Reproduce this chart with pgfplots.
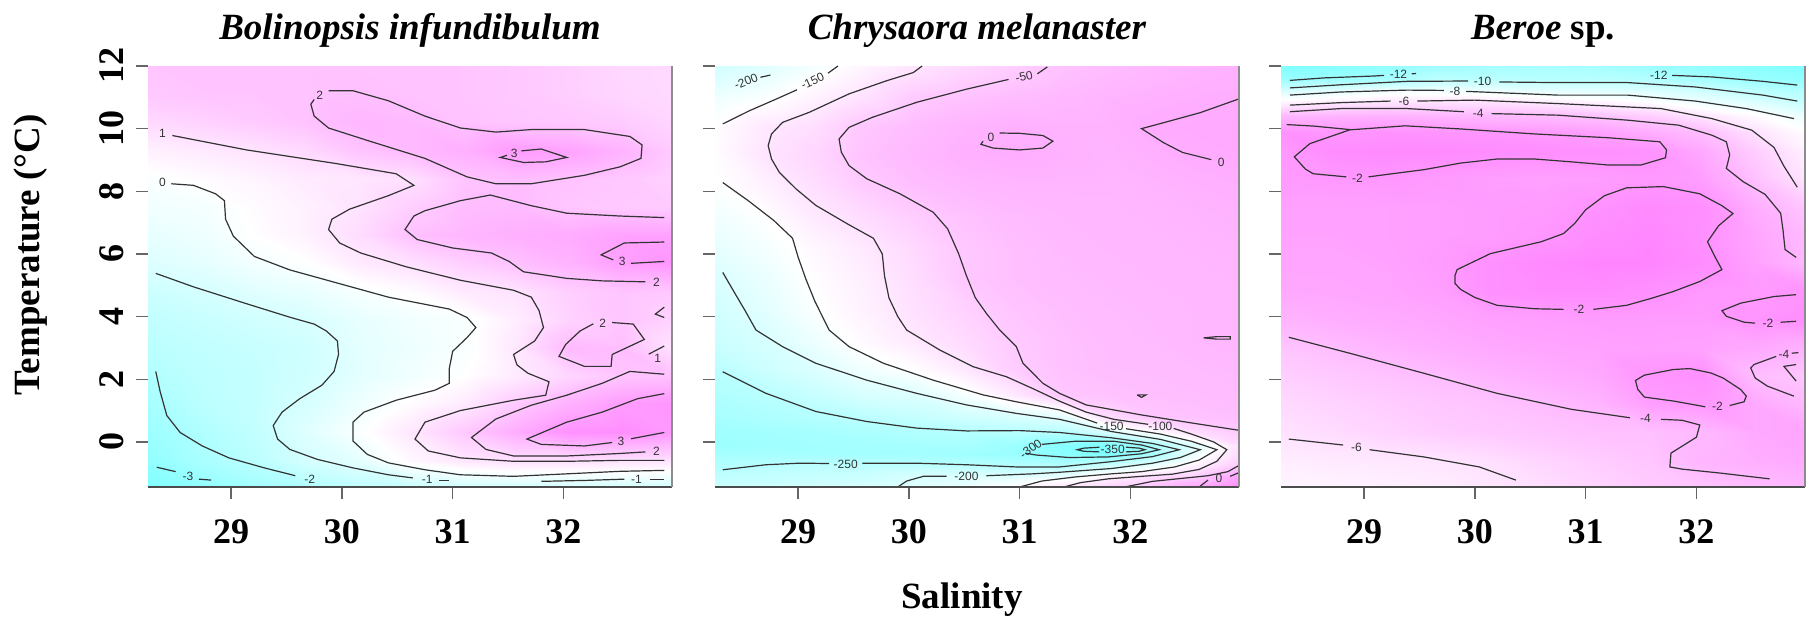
\documentclass[border=0pt]{standalone}
\usepackage{fontspec}
\setmainfont{Liberation Serif}
\newfontfamily\lblfont{Liberation Sans}
\usepackage{pgfplots}
\pgfplotsset{compat=1.18}

\pgfplotsset{
  colormap={cmcol}{rgb255(0cm)=(128,255,255) rgb255(1cm)=(255,255,255) rgb255(2cm)=(255,128,255)},
  % same palette, with the white point placed lower for the jellyfish panel
  colormap={cmcolb}{rgb255(0cm)=(128,255,255) rgb255(18cm)=(255,255,255) rgb255(41cm)=(255,128,255)},
  panel/.style={
    scale only axis, width=262pt, height=210.5pt,
    xmin=28.25, xmax=32.98, ymin=-1.44, ymax=12,
    xtick={29,30,31,32}, ytick={0,2,4,6,8,10,12},
    axis line style={draw=none},
    tick align=outside,
    major tick length=6pt,
    tick style={black!60, line width=0.7pt},
    xtick pos=left, ytick pos=left,
    /pgf/number format/assume math mode=true,
    ticklabel style={font=\fontsize{18}{20}\selectfont\bfseries, inner sep=0pt},
    xticklabel style={anchor=north, yshift=-10pt},
    colormap name=cmcol,
    clip mode=individual,
    title style={font=\fontsize{18.5}{21}\selectfont\bfseries, at={(axis description cs:0.5,1.055)}, anchor=center},
  },
  field/.style={surf, shader=interp, point meta=explicit},
  cl/.style={black!80, line width=0.6pt, mark=none},
}
\tikzset{clbl/.style={font=\lblfont\fontsize{6}{7}\selectfont, text=black!80, inner sep=0pt}}

\begin{document}
\begin{tikzpicture}
\path[use as bounding box] (0,0) rectangle (907.5pt,312pt);

% ---------------- Bolinopsis infundibulum ----------------
\begin{axis}[panel, at={(74pt,68.5pt)}, anchor=south west,
  title={\textit{Bolinopsis infundibulum}},
  point meta min=-3.5, point meta max=3.9,
  ylabel={Temperature (°C)},
  ylabel style={font=\fontsize{18.5}{21}\selectfont\bfseries, at={(axis description cs:-0.2233,0.551)}, anchor=center},
  yticklabel style={rotate=90, anchor=south, yshift=6pt},
]
\addplot[field, mesh/cols=11] coordinates {
(28.25,-1.5)[-3.5] (28.725,-1.5)[-3.0] (29.2,-1.5)[-2.5] (29.675,-1.5)[-2.1] (30.15,-1.5)[-1.7] (30.625,-1.5)[-1.5] (31.1,-1.5)[-1.3] (31.575,-1.5)[-1.2] (32.05,-1.5)[-1.2] (32.525,-1.5)[-1.2] (33.0,-1.5)[-1.2]
(28.25,-0.6)[-3.0] (28.725,-0.6)[-2.3] (29.2,-0.6)[-1.8] (29.675,-0.6)[-1.05] (30.15,-0.6)[-0.6] (30.625,-0.6)[0.4] (31.1,-0.6)[0.9] (31.575,-0.6)[1.1] (32.05,-0.6)[1.1] (32.525,-0.6)[1.0] (33.0,-0.6)[1.0]
(28.25,0.3)[-2.7] (28.725,0.3)[-2.1] (29.2,0.3)[-1.6] (29.675,0.3)[-0.7] (30.15,0.3)[0.05] (30.625,0.3)[0.9] (31.1,0.3)[1.8] (31.575,0.3)[2.6] (32.05,0.3)[3.4] (32.525,0.3)[3.5] (33.0,0.3)[3.2]
(28.25,1.2)[-2.4] (28.725,1.2)[-1.8] (29.2,1.2)[-1.5] (29.675,1.2)[-1.0] (30.15,1.2)[-0.3] (30.625,1.2)[0.3] (31.1,1.2)[0.8] (31.575,1.2)[1.75] (32.05,1.2)[2.5] (32.525,1.2)[3.1] (33.0,1.2)[3.3]
(28.25,2.1)[-2.1] (28.725,2.1)[-1.7] (29.2,2.1)[-1.5] (29.675,2.1)[-1.15] (30.15,2.1)[-0.6] (30.625,2.1)[-0.2] (31.1,2.1)[0.2] (31.575,2.1)[0.8] (32.05,2.1)[1.4] (32.525,2.1)[1.9] (33.0,2.1)[2.0]
(28.25,3.0)[-1.8] (28.725,3.0)[-1.6] (29.2,3.0)[-1.4] (29.675,3.0)[-1.2] (30.15,3.0)[-0.6] (30.625,3.0)[-0.3] (31.1,3.0)[0.0] (31.575,3.0)[0.9] (32.05,3.0)[2.2] (32.525,3.0)[2.1] (33.0,3.0)[1.0]
(28.25,3.9)[-1.6] (28.725,3.9)[-1.4] (29.2,3.9)[-1.15] (29.675,3.9)[-0.95] (30.15,3.9)[-0.5] (30.625,3.9)[-0.2] (31.1,3.9)[0.0] (31.575,3.9)[0.7] (32.05,3.9)[1.5] (32.525,3.9)[1.9] (33.0,3.9)[1.5]
(28.25,4.8)[-1.3] (28.725,4.8)[-1.05] (29.2,4.8)[-0.7] (29.675,4.8)[-0.45] (30.15,4.8)[-0.05] (30.625,4.8)[0.3] (31.1,4.8)[0.8] (31.575,4.8)[1.0] (32.05,4.8)[1.6] (32.525,4.8)[1.9] (33.0,4.8)[1.8]
(28.25,5.7)[-0.8] (28.725,5.7)[-0.55] (29.2,5.7)[-0.15] (29.675,5.7)[0.15] (30.15,5.7)[0.8] (30.625,5.7)[1.1] (31.1,5.7)[1.6] (31.575,5.7)[2.0] (32.05,5.7)[2.4] (32.525,5.7)[3.0] (33.0,5.7)[3.3]
(28.25,6.6)[-0.5] (28.725,6.6)[-0.3] (29.2,6.6)[0.2] (29.675,6.6)[0.6] (30.15,6.6)[1.2] (30.625,6.6)[2.0] (31.1,6.6)[2.3] (31.575,6.6)[2.5] (32.05,6.6)[2.6] (32.525,6.6)[2.9] (33.0,6.6)[2.9]
(28.25,7.5)[-0.2] (28.725,7.5)[-0.1] (29.2,7.5)[0.3] (29.675,7.5)[0.6] (30.15,7.5)[1.0] (30.625,7.5)[1.6] (31.1,7.5)[2.1] (31.575,7.5)[2.2] (32.05,7.5)[1.85] (32.525,7.5)[1.75] (33.0,7.5)[1.7]
(28.25,8.4)[0.05] (28.725,8.4)[0.3] (29.2,8.4)[0.5] (29.675,8.4)[0.8] (30.15,8.4)[0.9] (30.625,8.4)[1.1] (31.1,8.4)[1.9] (31.575,8.4)[2.1] (32.05,8.4)[1.95] (32.525,8.4)[1.8] (33.0,8.4)[1.5]
(28.25,9.3)[0.6] (28.725,9.3)[0.8] (29.2,9.3)[1.0] (29.675,9.3)[1.3] (30.15,9.3)[1.9] (30.625,9.3)[2.2] (31.1,9.3)[2.5] (31.575,9.3)[3.1] (32.05,9.3)[2.9] (32.525,9.3)[2.4] (33.0,9.3)[1.7]
(28.25,10.2)[1.3] (28.725,10.2)[1.5] (29.2,10.2)[1.7] (29.675,10.2)[1.95] (30.15,10.2)[2.3] (30.625,10.2)[2.2] (31.1,10.2)[1.95] (31.575,10.2)[1.85] (32.05,10.2)[1.8] (32.525,10.2)[1.7] (33.0,10.2)[1.4]
(28.25,11.1)[1.8] (28.725,11.1)[1.9] (29.2,11.1)[1.9] (29.675,11.1)[1.95] (30.15,11.1)[2.05] (30.625,11.1)[1.95] (31.1,11.1)[1.9] (31.575,11.1)[1.8] (32.05,11.1)[1.6] (32.525,11.1)[1.4] (33.0,11.1)[1.3]
(28.25,12.0)[1.9] (28.725,12.0)[1.95] (29.2,12.0)[1.95] (29.675,12.0)[1.95] (30.15,12.0)[1.95] (30.625,12.0)[1.95] (31.1,12.0)[1.9] (31.575,12.0)[1.8] (32.05,12.0)[1.6] (32.525,12.0)[1.35] (33.0,12.0)[1.3]
};
% contour -3
\addplot[cl] coordinates {(28.33,-0.81) (28.50,-0.95)};
\addplot[cl] coordinates {(28.71,-1.19) (28.82,-1.22)};
\node[clbl] at (axis cs:28.61,-1.09) {-3};
% contour -2
\addplot[cl] coordinates {(28.32,2.25) (28.36,1.60) (28.42,0.84) (28.54,0.30) (28.74,-0.13) (28.98,-0.51) (29.30,-0.83) (29.58,-1.08)};
\node[clbl] at (axis cs:29.71,-1.19) {-2};
% contour -1
\addplot[cl] coordinates {(28.32,5.38) (28.66,4.95) (29.14,4.41) (29.53,3.98) (29.75,3.76) (29.86,3.54) (29.96,3.22) (29.97,2.79) (29.93,2.25) (29.82,1.81) (29.62,1.38) (29.46,0.95) (29.38,0.52) (29.42,0.09) (29.53,-0.24) (29.78,-0.56) (30.10,-0.83) (30.42,-1.05) (30.64,-1.15)};
\addplot[cl] coordinates {(30.88,-1.23) (30.97,-1.23)};
\node[clbl] at (axis cs:30.77,-1.20) {-1};
\addplot[cl] coordinates {(31.80,-1.26) (32.20,-1.23) (32.55,-1.19)};
\addplot[cl] coordinates {(32.78,-1.20) (32.91,-1.20)};
\node[clbl] at (axis cs:32.66,-1.21) {-1};
% contour 0
\addplot[cl] coordinates {(28.46,8.24) (28.66,8.19) (28.86,7.92) (28.94,7.70) (28.95,7.11) (29.02,6.57) (29.21,5.92) (29.53,5.49) (29.98,5.05) (30.42,4.62) (30.97,4.24) (31.13,3.97) (31.21,3.65) (31.13,3.33) (31.00,2.89) (30.97,2.35) (30.97,1.87) (30.84,1.65) (30.49,1.33) (30.20,0.95) (30.10,0.63) (30.10,0.03) (30.23,-0.40) (30.42,-0.67) (30.75,-0.89) (31.07,-1.05) (31.55,-1.10) (32.03,-1.02) (32.51,-0.94) (32.91,-0.91)};
\node[clbl] at (axis cs:28.38,8.27) {0};
% contour 1
\addplot[cl] coordinates {(28.47,9.78) (29.14,9.32) (29.94,8.89) (30.49,8.56) (30.65,8.19) (30.42,7.86) (30.07,7.43) (29.91,7.11) (29.88,6.78) (29.98,6.35) (30.17,6.03) (30.58,5.59) (31.07,5.16) (31.55,4.84) (31.71,4.62) (31.78,4.19) (31.82,3.65) (31.74,3.22) (31.55,2.79) (31.58,2.46) (31.68,2.19) (31.87,1.92) (31.84,1.49) (31.55,1.33) (31.07,1.00) (30.75,0.63) (30.66,0.09) (30.78,-0.29) (31.07,-0.51) (31.55,-0.62) (32.03,-0.62) (32.51,-0.59) (32.91,-0.59)};
\node[clbl] at (axis cs:28.38,9.85) {1};
\addplot[cl] coordinates {(32.91,3.06) (32.77,2.80)};
\node[clbl] at (axis cs:32.85,2.66) {1};
% contour 2
\addplot[cl] coordinates {(29.88,11.21) (30.10,11.21) (30.42,10.89) (30.75,10.40) (31.07,10.02) (31.39,9.89) (31.71,9.97) (32.19,9.97) (32.60,9.75) (32.71,9.48) (32.70,9.05) (32.51,8.78) (32.19,8.51) (31.71,8.24) (31.39,8.24) (31.13,8.46) (30.75,9.05) (30.26,9.59) (29.88,10.02) (29.75,10.40) (29.72,10.78) (29.75,10.93)};
\node[clbl] at (axis cs:29.80,11.06) {2};
\addplot[cl] coordinates {(32.91,7.16) (32.51,7.21) (32.03,7.30) (31.71,7.54) (31.34,7.88) (31.07,7.70) (30.75,7.38) (30.65,7.21) (30.57,6.78) (30.68,6.46) (31.00,6.19) (31.35,6.03) (31.51,5.76) (31.64,5.43) (32.03,5.22) (32.35,5.14) (32.74,5.11)};
\node[clbl] at (axis cs:32.84,5.08) {2};
\addplot[cl] coordinates {(32.44,3.81) (32.63,3.76) (32.73,3.27) (32.44,2.79) (32.43,2.41) (32.19,2.41) (31.96,2.73) (32.02,3.11) (32.15,3.54) (32.27,3.77)};
\node[clbl] at (axis cs:32.355,3.79) {2};
\addplot[cl] coordinates {(32.91,2.16) (32.60,2.25) (32.35,1.87) (32.03,1.49) (31.71,1.17) (31.39,0.73) (31.17,0.14) (31.30,-0.24) (31.55,-0.45) (32.03,-0.45) (32.51,-0.37) (32.74,-0.32)};
\node[clbl] at (axis cs:32.84,-0.29) {2};
\addplot[cl] coordinates {(32.91,4.30) (32.83,4.08) (32.91,3.97)};
% contour 3
\addplot[cl] coordinates {(31.62,9.29) (31.80,9.35) (32.03,9.08) (31.84,8.94) (31.64,8.92) (31.43,9.08) (31.49,9.15)};
\node[clbl] at (axis cs:31.555,9.21) {3};
\addplot[cl] coordinates {(32.91,6.38) (32.55,6.35) (32.34,5.97) (32.45,5.81)};
\addplot[cl] coordinates {(32.61,5.70) (32.91,5.76)};
\node[clbl] at (axis cs:32.53,5.76) {3};
\addplot[cl] coordinates {(32.91,1.54) (32.67,1.38) (32.35,0.95) (32.03,0.63) (31.67,0.09) (31.80,-0.08) (32.19,-0.13) (32.44,-0.02)};
\addplot[cl] coordinates {(32.61,0.10) (32.91,0.30)};
\node[clbl] at (axis cs:32.52,0.03) {3};
\draw[black!70, line width=0.7pt] (rel axis cs:0,0) -- (rel axis cs:1,0);
\draw[black!45, line width=0.6pt] (rel axis cs:1,0) -- (rel axis cs:1,1);
\end{axis}

% ---------------- Chrysaora melanaster ----------------
\begin{axis}[panel, at={(357.5pt,68.5pt)}, anchor=south west,
  title={\textit{Chrysaora melanaster}},
  colormap name=cmcolb,
  point meta min=-330, point meta max=80,
  yticklabels={},
  xlabel={Salinity},
  xlabel style={font=\fontsize{18.5}{21}\selectfont\bfseries, at={(axis description cs:0.4714,-0.2684)}, anchor=center},
]
\addplot[field, mesh/cols=12] coordinates {
(28.25,-1.45)[-225] (28.7,-1.45)[-220] (29.15,-1.45)[-212] (29.6,-1.45)[-205] (30.05,-1.45)[-195] (30.5,-1.45)[-180] (30.95,-1.45)[-150] (31.4,-1.45)[-100] (31.8,-1.45)[-70] (32.2,-1.45)[-40] (32.6,-1.45)[15] (33.0,-1.45)[60]
(28.25,-1.1)[-240] (28.7,-1.1)[-235] (29.15,-1.1)[-230] (29.6,-1.1)[-225] (30.05,-1.1)[-205] (30.5,-1.1)[-200] (30.95,-1.1)[-195] (31.4,-1.1)[-180] (31.8,-1.1)[-130] (32.2,-1.1)[-90] (32.6,-1.1)[-60] (33.0,-1.1)[20]
(28.25,-0.75)[-258] (28.7,-0.75)[-250] (29.15,-0.75)[-245] (29.6,-0.75)[-245] (30.05,-0.75)[-245] (30.5,-0.75)[-248] (30.95,-0.75)[-255] (31.4,-0.75)[-258] (31.8,-0.75)[-225] (32.2,-0.75)[-180] (32.6,-0.75)[-125] (33.0,-0.75)[-50]
(28.25,-0.4)[-275] (28.7,-0.4)[-275] (29.15,-0.4)[-278] (29.6,-0.4)[-280] (30.05,-0.4)[-282] (30.5,-0.4)[-285] (30.95,-0.4)[-295] (31.4,-0.4)[-315] (31.8,-0.4)[-330] (32.2,-0.4)[-270] (32.6,-0.4)[-170] (33.0,-0.4)[-80]
(28.25,-0.1)[-290] (28.7,-0.1)[-285] (29.15,-0.1)[-280] (29.6,-0.1)[-278] (30.05,-0.1)[-275] (30.5,-0.1)[-272] (30.95,-0.1)[-290] (31.4,-0.1)[-320] (31.8,-0.1)[-345] (32.2,-0.1)[-270] (32.6,-0.1)[-195] (33.0,-0.1)[-85]
(28.25,0.3)[-285] (28.7,0.3)[-280] (29.15,0.3)[-275] (29.6,0.3)[-268] (30.05,0.3)[-260] (30.5,0.3)[-255] (30.95,0.3)[-250] (31.4,0.3)[-250] (31.8,0.3)[-205] (32.2,0.3)[-150] (32.6,0.3)[-85] (33.0,0.3)[-55]
(28.25,0.8)[-275] (28.7,0.8)[-265] (29.15,0.8)[-255] (29.6,0.8)[-245] (30.05,0.8)[-232] (30.5,0.8)[-218] (30.95,0.8)[-205] (31.4,0.8)[-190] (31.8,0.8)[-85] (32.2,0.8)[-48] (32.6,0.8)[-40] (33.0,0.8)[-35]
(28.25,1.5)[-262] (28.7,1.5)[-250] (29.15,1.5)[-228] (29.6,1.5)[-205] (30.05,1.5)[-200] (30.5,1.5)[-165] (30.95,1.5)[-110] (31.4,1.5)[-48] (31.8,1.5)[-40] (32.2,1.5)[-35] (32.6,1.5)[-32] (33.0,1.5)[-28]
(28.25,2.3)[-248] (28.7,2.3)[-222] (29.15,2.3)[-200] (29.6,2.3)[-170] (30.05,2.3)[-150] (30.5,2.3)[-110] (30.95,2.3)[-60] (31.4,2.3)[-38] (31.8,2.3)[-32] (32.2,2.3)[-30] (32.6,2.3)[-28] (33.0,2.3)[-25]
(28.25,3.2)[-225] (28.7,3.2)[-208] (29.15,3.2)[-175] (29.6,3.2)[-140] (30.05,3.2)[-110] (30.5,3.2)[-85] (30.95,3.2)[-55] (31.4,3.2)[-38] (31.8,3.2)[-30] (32.2,3.2)[-27] (32.6,3.2)[-22] (33.0,3.2)[-20]
(28.25,4.2)[-215] (28.7,4.2)[-190] (29.15,4.2)[-155] (29.6,4.2)[-125] (30.05,4.2)[-95] (30.5,4.2)[-68] (30.95,4.2)[-45] (31.4,4.2)[-33] (31.8,4.2)[-28] (32.2,4.2)[-25] (32.6,4.2)[-22] (33.0,4.2)[-20]
(28.25,5.2)[-203] (28.7,5.2)[-180] (29.15,5.2)[-147] (29.6,5.2)[-120] (30.05,5.2)[-88] (30.5,5.2)[-50] (30.95,5.2)[-35] (31.4,5.2)[-28] (31.8,5.2)[-25] (32.2,5.2)[-22] (32.6,5.2)[-20] (33.0,5.2)[-18]
(28.25,6.2)[-185] (28.7,6.2)[-165] (29.15,6.2)[-135] (29.6,6.2)[-110] (30.05,6.2)[-80] (30.5,6.2)[-50] (30.95,6.2)[-35] (31.4,6.2)[-25] (31.8,6.2)[-22] (32.2,6.2)[-20] (32.6,6.2)[-18] (33.0,6.2)[-15]
(28.25,7.2)[-170] (28.7,7.2)[-150] (29.15,7.2)[-110] (29.6,7.2)[-85] (30.05,7.2)[-60] (30.5,7.2)[-40] (30.95,7.2)[-28] (31.4,7.2)[-22] (31.8,7.2)[-20] (32.2,7.2)[-18] (32.6,7.2)[-15] (33.0,7.2)[-12]
(28.25,8.2)[-152] (28.7,8.2)[-125] (29.15,8.2)[-90] (29.6,8.2)[-55] (30.05,8.2)[-35] (30.5,8.2)[-22] (30.95,8.2)[-18] (31.4,8.2)[-18] (31.8,8.2)[-18] (32.2,8.2)[-15] (32.6,8.2)[-10] (33.0,8.2)[-5]
(28.25,9.2)[-145] (28.7,9.2)[-102] (29.15,9.2)[-75] (29.6,9.2)[-40] (30.05,9.2)[-22] (30.5,9.2)[-8] (30.95,9.2)[-2] (31.4,9.2)[-10] (31.8,9.2)[-15] (32.2,9.2)[-8] (32.6,9.2)[0] (33.0,9.2)[4]
(28.25,10.1)[-148] (28.7,10.1)[-110] (29.15,10.1)[-90] (29.6,10.1)[-48] (30.05,10.1)[-30] (30.5,10.1)[-15] (30.95,10.1)[-8] (31.4,10.1)[-12] (31.8,10.1)[-12] (32.2,10.1)[0] (32.6,10.1)[5] (33.0,10.1)[6]
(28.25,11.0)[-175] (28.7,11.0)[-158] (29.15,11.0)[-128] (29.6,11.0)[-95] (30.05,11.0)[-55] (30.5,11.0)[-40] (30.95,11.0)[-30] (31.4,11.0)[-22] (31.8,11.0)[-15] (32.2,11.0)[-10] (32.6,11.0)[-5] (33.0,11.0)[-1]
(28.25,12.0)[-215] (28.7,12.0)[-195] (29.15,12.0)[-165] (29.6,12.0)[-130] (30.05,12.0)[-105] (30.5,12.0)[-80] (30.95,12.0)[-60] (31.4,12.0)[-40] (31.8,12.0)[-30] (32.2,12.0)[-22] (32.6,12.0)[-15] (33.0,12.0)[-10]
};
% -200 in the top corner
\addplot[cl] coordinates {(28.66,11.64) (28.75,11.71)};
\node[clbl, rotate=22] at (axis cs:28.53,11.50) {-200};
% -150, upper piece
\addplot[cl] coordinates {(28.32,10.15) (28.56,10.57) (28.80,10.94) (28.99,11.24)};
\addplot[cl] coordinates {(29.27,11.77) (29.36,12.0)};
\node[clbl, rotate=25] at (axis cs:29.13,11.52) {-150};
% -100
\addplot[cl] coordinates {(30.12,12.0) (30.04,11.79) (29.80,11.53) (29.46,11.11) (29.10,10.52) (28.86,10.20) (28.76,9.83) (28.73,9.46) (28.76,9.03) (28.83,8.61) (28.98,8.08) (29.16,7.55) (29.45,6.95) (29.68,6.50) (29.76,6.00) (29.78,5.30) (29.82,4.60) (29.90,4.00) (29.98,3.57) (30.28,2.93) (30.58,2.40) (30.88,2.08) (31.12,1.70) (31.36,1.30) (31.60,0.95) (31.85,0.72) (32.16,0.56)};
\addplot[cl] coordinates {(32.39,0.43) (32.55,0.25) (32.75,0.0) (32.87,-0.25) (32.78,-0.62) (32.62,-0.88) (32.38,-1.03) (32.10,-1.10) (31.80,-1.18) (31.55,-1.30) (31.40,-1.44)};
\node[clbl] at (axis cs:32.27,0.49) {-100};
% -150, lower piece
\addplot[cl] coordinates {(28.32,8.28) (28.55,7.70) (28.78,7.07) (28.95,6.50) (29.00,5.90) (29.07,5.20) (29.15,4.50) (29.28,3.57) (29.46,3.04) (29.77,2.51) (30.22,1.97) (30.67,1.50) (30.97,1.28) (31.36,1.02) (31.70,0.60)};
\addplot[cl] coordinates {(31.96,0.42) (32.27,0.25) (32.55,0.02) (32.78,-0.25) (32.62,-0.58) (32.40,-0.80) (32.10,-0.95) (31.83,-1.02) (31.50,-1.12) (31.20,-1.25) (31.00,-1.44)};
\node[clbl] at (axis cs:31.83,0.50) {-150};
% -200
\addplot[cl] coordinates {(28.32,5.41) (28.42,4.80) (28.52,4.20) (28.62,3.57) (28.86,3.04) (29.16,2.51) (29.62,1.97) (30.07,1.55) (30.52,1.18) (30.97,0.91) (31.36,0.72) (31.83,0.33) (32.27,0.08) (32.63,-0.25) (32.45,-0.50) (32.20,-0.68) (31.83,-0.85) (31.36,-0.97) (31.12,-1.02) (30.70,-1.08)};
\addplot[cl] coordinates {(30.34,-1.10) (30.13,-1.10) (29.98,-1.25) (29.90,-1.44)};
\node[clbl] at (axis cs:30.52,-1.09) {-200};
% -250
\addplot[cl] coordinates {(28.32,2.24) (28.71,1.55) (29.16,0.97) (29.62,0.65) (30.07,0.44) (30.52,0.35) (31.00,0.36) (31.36,0.30) (31.83,0.13) (32.20,-0.05) (32.44,-0.25) (32.20,-0.47) (31.83,-0.63) (31.36,-0.80) (30.97,-0.80) (30.52,-0.73) (30.07,-0.68) (29.58,-0.68)};
\addplot[cl] coordinates {(29.28,-0.69) (29.01,-0.68) (28.71,-0.73) (28.32,-0.89)};
\node[clbl] at (axis cs:29.43,-0.71) {-250};
% -300 and -350
\addplot[cl] coordinates {(31.20,-0.08) (31.50,0.02) (31.85,0.02) (32.10,-0.10) (32.26,-0.25) (32.10,-0.38) (31.80,-0.48) (31.45,-0.50) (31.15,-0.42) (31.05,-0.36)};
\node[clbl, rotate=35] at (axis cs:31.10,-0.22) {-300};
\addplot[cl] coordinates {(31.72,-0.17) (31.58,-0.20) (31.52,-0.25) (31.58,-0.30) (31.72,-0.32)};
\addplot[cl] coordinates {(31.96,-0.17) (32.08,-0.20) (32.13,-0.25) (32.08,-0.30) (31.96,-0.32)};
\node[clbl] at (axis cs:31.84,-0.245) {-350};
% -50
\addplot[cl] coordinates {(31.16,11.75) (31.25,11.97)};
\addplot[cl] coordinates {(30.90,11.57) (30.52,11.26) (30.07,10.84) (29.67,10.36) (29.46,10.04) (29.37,9.67) (29.39,9.25) (29.46,8.82) (29.62,8.40) (29.92,7.92) (30.22,7.33) (30.35,6.80) (30.45,6.00) (30.52,5.30) (30.60,4.60) (30.70,4.10) (30.82,3.57) (30.97,3.04) (31.03,2.51) (31.21,1.87) (31.36,1.55) (31.60,1.18) (32.10,0.86) (32.56,0.60) (32.98,0.37)};
\node[clbl, rotate=12] at (axis cs:31.04,11.66) {-50};
\addplot[cl] coordinates {(32.98,-0.75) (32.88,-0.95) (32.70,-1.08) (32.45,-1.17) (32.20,-1.26) (31.95,-1.44)};
% 0
\addplot[cl] coordinates {(32.98,-0.98) (32.90,-1.10)};
\addplot[cl] coordinates {(32.70,-1.22) (32.62,-1.44)};
\node[clbl] at (axis cs:32.80,-1.16) {0};
\addplot[cl] coordinates {(30.82,9.86) (31.00,9.85) (31.21,9.78) (31.30,9.60) (31.21,9.38) (31.00,9.32) (30.76,9.38) (30.65,9.50) (30.67,9.60)};
\node[clbl] at (axis cs:30.74,9.73) {0};
\addplot[cl] coordinates {(32.98,10.95) (32.63,10.51) (32.30,10.19) (32.10,10.00) (32.30,9.55) (32.47,9.24) (32.73,9.01)};
\node[clbl] at (axis cs:32.82,8.92) {0};
\addplot[cl] coordinates {(32.66,3.32) (32.78,3.36) (32.90,3.36) (32.90,3.28) (32.78,3.28) (32.66,3.32)};
\addplot[cl] coordinates {(32.06,1.50) (32.14,1.50) (32.10,1.42) (32.06,1.50)};
\draw[black!70, line width=0.7pt] (rel axis cs:0,0) -- (rel axis cs:1,0);
\draw[black!45, line width=0.6pt] (rel axis cs:1,0) -- (rel axis cs:1,1);
\end{axis}

% ---------------- Beroe sp. ----------------
\begin{axis}[panel, at={(640.5pt,68.5pt)}, anchor=south west,
  title={\textit{Beroe} sp.},
  point meta min=-13.5, point meta max=-1,
  yticklabels={},
]
\addplot[field, mesh/cols=11] coordinates {
(28.25,-1.5)[-6.8] (28.725,-1.5)[-6.7] (29.2,-1.5)[-6.6] (29.675,-1.5)[-6.4] (30.15,-1.5)[-6.1] (30.625,-1.5)[-5.7] (31.1,-1.5)[-5.2] (31.575,-1.5)[-4.8] (32.05,-1.5)[-4.4] (32.525,-1.5)[-4.1] (33.0,-1.5)[-3.8]
(28.25,-0.6)[-6.4] (28.725,-0.6)[-6.2] (29.2,-0.6)[-6.1] (29.675,-0.6)[-6.0] (30.15,-0.6)[-5.7] (30.625,-0.6)[-5.2] (31.1,-0.6)[-4.8] (31.575,-0.6)[-4.4] (32.05,-0.6)[-3.6] (32.525,-0.6)[-3.3] (33.0,-0.6)[-3.0]
(28.25,0.3)[-5.8] (28.725,0.3)[-5.5] (29.2,0.3)[-5.1] (29.675,0.3)[-4.8] (30.15,0.3)[-4.6] (30.625,0.3)[-4.4] (31.1,0.3)[-4.2] (31.575,0.3)[-4.2] (32.05,0.3)[-3.8] (32.525,0.3)[-3.0] (33.0,0.3)[-2.8]
(28.25,1.2)[-5.4] (28.725,1.2)[-5.1] (29.2,1.2)[-4.8] (29.675,1.2)[-4.5] (30.15,1.2)[-4.3] (30.625,1.2)[-4.0] (31.1,1.2)[-3.6] (31.575,1.2)[-2.5] (32.05,1.2)[-2.2] (32.525,1.2)[-3.0] (33.0,1.2)[-3.8]
(28.25,2.1)[-4.9] (28.725,2.1)[-4.6] (29.2,2.1)[-4.3] (29.675,2.1)[-4.0] (30.15,2.1)[-3.6] (30.625,2.1)[-3.3] (31.1,2.1)[-3.0] (31.575,2.1)[-2.0] (32.05,2.1)[-1.8] (32.525,2.1)[-4.0] (33.0,2.1)[-4.5]
(28.25,3.0)[-4.4] (28.725,3.0)[-4.0] (29.2,3.0)[-3.6] (29.675,3.0)[-3.3] (30.15,3.0)[-3.0] (30.625,3.0)[-2.8] (31.1,3.0)[-2.7] (31.575,3.0)[-2.6] (32.05,3.0)[-2.7] (32.525,3.0)[-3.0] (33.0,3.0)[-3.5]
(28.25,3.9)[-3.6] (28.725,3.9)[-3.3] (29.2,3.9)[-3.1] (29.675,3.9)[-2.9] (30.15,3.9)[-2.6] (30.625,3.9)[-2.5] (31.1,3.9)[-2.4] (31.575,3.9)[-2.4] (32.05,3.9)[-2.4] (32.525,3.9)[-2.0] (33.0,3.9)[-1.7]
(28.25,4.8)[-3.0] (28.725,4.8)[-2.9] (29.2,4.8)[-2.8] (29.675,4.8)[-2.5] (30.15,4.8)[-1.8] (30.625,4.8)[-1.6] (31.1,4.8)[-1.6] (31.575,4.8)[-1.8] (32.05,4.8)[-2.2] (32.525,4.8)[-2.3] (33.0,4.8)[-1.9]
(28.25,5.7)[-2.8] (28.725,5.7)[-2.8] (29.2,5.7)[-2.7] (29.675,5.7)[-2.4] (30.15,5.7)[-1.8] (30.625,5.7)[-1.4] (31.1,5.7)[-1.2] (31.575,5.7)[-1.2] (32.05,5.7)[-1.6] (32.525,5.7)[-2.6] (33.0,5.7)[-3.8]
(28.25,6.6)[-2.7] (28.725,6.6)[-2.7] (29.2,6.6)[-2.6] (29.675,6.6)[-2.5] (30.15,6.6)[-2.4] (30.625,6.6)[-2.1] (31.1,6.6)[-1.6] (31.575,6.6)[-1.3] (32.05,6.6)[-1.8] (32.525,6.6)[-2.8] (33.0,6.6)[-3.9]
(28.25,7.5)[-2.6] (28.725,7.5)[-2.6] (29.2,7.5)[-2.6] (29.675,7.5)[-2.5] (30.15,7.5)[-2.4] (30.625,7.5)[-2.3] (31.1,7.5)[-1.9] (31.575,7.5)[-1.5] (32.05,7.5)[-1.7] (32.525,7.5)[-3.2] (33.0,7.5)[-4.5]
(28.25,8.4)[-2.3] (28.725,8.4)[-2.2] (29.2,8.4)[-2.1] (29.675,8.4)[-2.3] (30.15,8.4)[-2.5] (30.625,8.4)[-2.6] (31.1,8.4)[-2.5] (31.575,8.4)[-2.2] (32.05,8.4)[-2.5] (32.525,8.4)[-4.2] (33.0,8.4)[-6.0]
(28.25,9.3)[-2.2] (28.725,9.3)[-1.6] (29.2,9.3)[-1.5] (29.675,9.3)[-1.5] (30.15,9.3)[-1.6] (30.625,9.3)[-1.7] (31.1,9.3)[-1.8] (31.575,9.3)[-1.9] (32.05,9.3)[-3.0] (32.525,9.3)[-4.8] (33.0,9.3)[-6.6]
(28.25,9.9)[-1.9] (28.725,9.9)[-2.1] (29.2,9.9)[-1.9] (29.675,9.9)[-2.0] (30.15,9.9)[-2.1] (30.625,9.9)[-2.3] (31.1,9.9)[-2.6] (31.575,9.9)[-3.2] (32.05,9.9)[-4.0] (32.525,9.9)[-5.8] (33.0,9.9)[-7.2]
(28.25,10.4)[-3.7] (28.725,10.4)[-3.5] (29.2,10.4)[-3.4] (29.675,10.4)[-3.6] (30.15,10.4)[-3.8] (30.625,10.4)[-3.9] (31.1,10.4)[-4.2] (31.575,10.4)[-4.8] (32.05,10.4)[-5.9] (32.525,10.4)[-7.0] (33.0,10.4)[-8.3]
(28.25,10.8)[-6.3] (28.725,10.8)[-5.9] (29.2,10.8)[-5.6] (29.675,10.8)[-5.5] (30.15,10.8)[-5.5] (30.625,10.8)[-5.9] (31.1,10.8)[-6.3] (31.575,10.8)[-6.8] (32.05,10.8)[-7.8] (32.525,10.8)[-8.6] (33.0,10.8)[-9.9]
(28.25,11.2)[-9.1] (28.725,11.2)[-8.5] (29.2,11.2)[-7.8] (29.675,11.2)[-7.8] (30.15,11.2)[-8.0] (30.625,11.2)[-8.4] (31.1,11.2)[-8.6] (31.575,11.2)[-8.9] (32.05,11.2)[-9.5] (32.525,11.2)[-10.4] (33.0,11.2)[-11.0]
(28.25,11.6)[-12.2] (28.725,11.6)[-12.0] (29.2,11.6)[-11.6] (29.675,11.6)[-10.5] (30.15,11.6)[-10.6] (30.625,11.6)[-10.7] (31.1,11.6)[-10.7] (31.575,11.6)[-11.0] (32.05,11.6)[-11.6] (32.525,11.6)[-12.2] (33.0,11.6)[-12.6]
(28.25,12.0)[-13.5] (28.725,12.0)[-13.2] (29.2,12.0)[-12.6] (29.675,12.0)[-11.9] (30.15,12.0)[-11.6] (30.625,12.0)[-11.5] (31.1,12.0)[-11.6] (31.575,12.0)[-12.1] (32.05,12.0)[-12.6] (32.525,12.0)[-13.0] (33.0,12.0)[-13.5]
};
% -12
\addplot[cl] coordinates {(28.33,11.54) (28.64,11.62) (29.09,11.68) (29.18,11.70)};
\addplot[cl] coordinates {(29.43,11.75) (29.47,11.76)};
\node[clbl] at (axis cs:29.31,11.72) {-12};
\addplot[cl] coordinates {(31.78,11.70) (32.14,11.65) (32.60,11.51) (32.91,11.39)};
\node[clbl] at (axis cs:31.66,11.71) {-12};
% -10
\addplot[cl] coordinates {(28.33,11.30) (28.79,11.40) (29.39,11.51) (29.94,11.52)};
\addplot[cl] coordinates {(30.22,11.49) (30.75,11.47) (31.38,11.47) (31.99,11.33) (32.60,11.07) (32.91,10.88)};
\node[clbl] at (axis cs:30.07,11.50) {-10};
% -8
\addplot[cl] coordinates {(28.33,11.07) (28.79,11.17) (29.39,11.23) (29.72,11.22)};
\addplot[cl] coordinates {(29.92,11.19) (30.75,11.07) (31.38,11.07) (31.99,10.88) (32.45,10.64) (32.88,10.32)};
\node[clbl] at (axis cs:29.82,11.18) {-8};
% -6
\addplot[cl] coordinates {(28.33,10.75) (28.79,10.83) (29.24,10.88)};
\addplot[cl] coordinates {(29.48,10.88) (30.00,10.91) (30.75,10.80) (31.68,10.64) (32.14,10.32) (32.50,9.95) (32.70,9.40) (32.79,8.80) (32.91,8.13)};
\node[clbl] at (axis cs:29.36,10.86) {-6};
% -4, upper
\addplot[cl] coordinates {(28.33,10.54) (28.79,10.64) (29.39,10.64) (29.90,10.54)};
\addplot[cl] coordinates {(30.15,10.48) (30.75,10.43) (31.38,10.27) (31.84,10.11) (32.14,9.79) (32.27,9.58) (32.30,9.16) (32.27,8.73) (32.42,8.31) (32.62,7.90) (32.76,7.30) (32.78,6.80) (32.80,6.14) (32.90,5.89)};
\node[clbl] at (axis cs:30.03,10.50) {-4};
% -2
\addplot[cl] coordinates {(28.30,10.13) (28.55,10.08) (28.87,9.97)};
\addplot[cl] coordinates {(28.84,8.46) (28.54,8.56) (28.47,8.71) (28.37,9.10) (28.51,9.52) (28.87,9.96) (29.37,10.09) (29.87,9.99) (30.54,9.83) (31.20,9.71) (31.67,9.58) (31.73,9.32) (31.72,9.07) (31.50,8.84) (31.20,8.84) (30.87,8.94) (30.54,9.03) (30.20,9.03) (29.87,8.90) (29.54,8.69) (29.21,8.54) (29.04,8.46)};
\node[clbl] at (axis cs:28.94,8.43) {-2};
\addplot[cl] coordinates {(31.07,4.23) (31.37,4.36) (31.60,4.59) (31.79,4.80) (32.03,5.12) (32.23,5.50) (32.17,5.89) (32.10,6.39) (32.20,6.90) (32.33,7.29) (32.23,7.54) (32.03,7.92) (31.70,8.15) (31.37,8.11) (31.17,7.86) (31.00,7.41) (30.90,6.97) (30.80,6.65) (30.60,6.39) (30.14,6.01) (29.84,5.50) (29.82,5.31) (29.82,5.06) (29.87,4.87) (30.00,4.61) (30.20,4.36) (30.54,4.25) (30.80,4.23)};
\node[clbl] at (axis cs:30.94,4.23) {-2};
\addplot[cl] coordinates {(32.90,4.70) (32.70,4.64) (32.40,4.43) (32.23,4.19) (32.27,4.01) (32.43,3.82) (32.53,3.79)};
\addplot[cl] coordinates {(32.76,3.82) (32.90,3.85)};
\node[clbl] at (axis cs:32.645,3.78) {-2};
\addplot[cl] coordinates {(32.08,1.12) (31.80,1.30) (31.53,1.43) (31.47,1.68) (31.45,1.96) (31.53,2.13) (31.79,2.31) (31.94,2.34) (32.13,2.20) (32.24,2.04) (32.40,1.67) (32.45,1.46) (32.43,1.28) (32.30,1.16)};
\node[clbl] at (axis cs:32.19,1.13) {-2};
% -4, lower pieces
\addplot[cl] coordinates {(32.86,2.83) (32.92,2.85)};
\addplot[cl] coordinates {(32.72,2.73) (32.52,2.47) (32.49,2.36) (32.53,2.04) (32.64,1.78) (32.88,1.46)};
\node[clbl] at (axis cs:32.79,2.80) {-4};
\addplot[cl] coordinates {(32.90,2.47) (32.79,2.41) (32.90,1.94)};
\addplot[cl] coordinates {(28.32,3.34) (28.87,2.83) (29.54,2.19) (30.20,1.55) (30.87,1.04) (31.40,0.77)};
\addplot[cl] coordinates {(31.68,0.72) (31.87,0.69) (32.03,0.54) (32.00,0.15) (31.77,-0.36) (31.76,-0.80) (31.87,-0.87) (32.20,-0.99) (32.66,-1.18)};
\node[clbl] at (axis cs:31.54,0.74) {-4};
% -6, lower
\addplot[cl] coordinates {(28.32,0.09) (28.81,-0.10)};
\addplot[cl] coordinates {(29.05,-0.25) (29.54,-0.48) (30.04,-0.80) (30.37,-1.22)};
\node[clbl] at (axis cs:28.93,-0.18) {-6};
\draw[black!70, line width=0.7pt] (rel axis cs:0,0) -- (rel axis cs:1,0);
\draw[black!45, line width=0.6pt] (rel axis cs:1,0) -- (rel axis cs:1,1);
\end{axis}
\end{tikzpicture}
\end{document}
